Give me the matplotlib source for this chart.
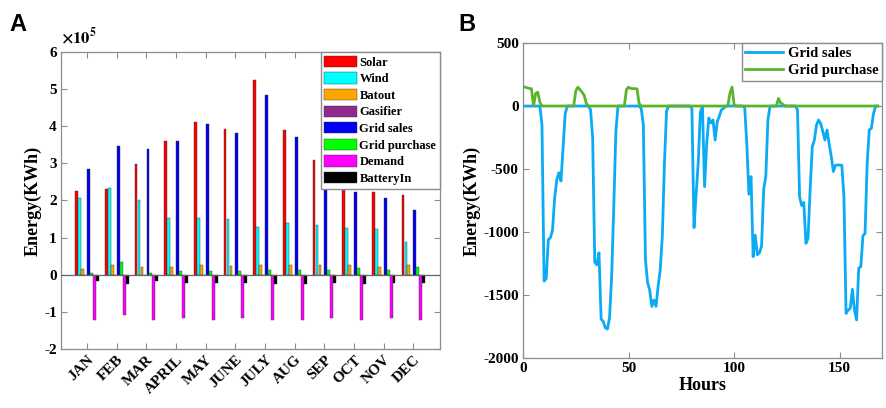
import numpy as np
import matplotlib
matplotlib.use("Agg")
import matplotlib.pyplot as plt

plt.rcParams['font.family'] = ['Liberation Serif', 'DejaVu Serif']
plt.rcParams['font.weight'] = 'bold'
plt.rcParams['axes.labelweight'] = 'bold'
plt.rcParams['axes.unicode_minus'] = False
plt.rcParams['mathtext.fontset'] = 'stix'

# ---- panel A data (units of 1e5 kWh) ----
months = ['JAN', 'FEB', 'MAR', 'APRIL', 'MAY', 'JUNE', 'JULY', 'AUG', 'SEP', 'OCT', 'NOV', 'DEC']
solar = [2.26, 2.30, 2.97, 3.61, 4.12, 3.92, 5.25, 3.89, 3.08, 2.31, 2.22, 2.16]
wind = [2.08, 2.34, 2.01, 1.53, 1.54, 1.49, 1.29, 1.39, 1.34, 1.27, 1.22, 0.87]
batout = [0.15, 0.25, 0.20, 0.21, 0.25, 0.24, 0.26, 0.26, 0.26, 0.26, 0.22, 0.26]
gasifier = [0, 0, 0, 0, 0, 0, 0, 0, 0, 0, 0, 0]
grid_sales = [2.85, 3.48, 3.40, 3.61, 4.05, 3.83, 4.83, 3.70, 2.85, 2.24, 2.07, 1.74]
grid_purchase = [0.06, 0.34, 0.04, 0.10, 0.10, 0.10, 0.13, 0.13, 0.13, 0.18, 0.13, 0.20]
demand = [-1.21, -1.09, -1.21, -1.17, -1.21, -1.17, -1.21, -1.21, -1.17, -1.21, -1.17, -1.21]
battery_in = [-0.16, -0.24, -0.18, -0.21, -0.21, -0.23, -0.26, -0.25, -0.22, -0.24, -0.21, -0.23]

series_names = ['Solar', 'Wind', 'Batout', 'Gasifier', 'Grid sales', 'Grid purchase', 'Demand', 'BatteryIn']
series_colors = ['#FF0000', '#00FFFF', '#FFA500', '#8E2A8E', '#0000F0', '#00FF00', '#FF00FF', '#000000']

# ---- panel B data (hourly, kWh) ----
hours = np.arange(1, 169)
sales_hourly = [
    0, 0, 0, 0, 0, 0, 0, 0, -150, -1390, -1370, -1060,
    -1045, -985, -730, -585, -530, -595, -330, -60, 0, 0, 0, 0,
    0, 0, 0, 0, 0, 0, 0, -30, -250, -1240, -1260, -1165,
    -1690, -1710, -1760, -1770, -1680, -1350, -800, -200, 0, 0, 0, 0,
    0, 0, 0, 0, 0, 0, 0, -20, -150, -1220, -1400, -1460,
    -1590, -1540, -1590, -1430, -1300, -1030, -450, -40, 0, 0, 0, 0,
    0, 0, 0, 0, 0, 0, 0, -20, -965, -700, -450, -50,
    0, -640, -300, -95, -135, -110, -270, -124, -80, -30, -18, 0,
    0, 0, 0, 0, 0, 0, 0, 0, -10, -300, -700, -560,
    -1196, -1025, -1180, -1165, -1110, -660, -560, -110, 0, 0, 0, 0,
    0, 0, 0, 0, 0, 0, 0, 0, 0, -30, -720, -790,
    -765, -1090, -1050, -660, -323, -270, -150, -111, -140, -200, -270, -190,
    -300, -400, -520, -470, -468, -468, -470, -720, -1646, -1620, -1606, -1455,
    -1620, -1698, -1288, -1275, -1030, -1011, -455, -190, -177, -60, 0, 0,
]
purchase_hourly = [
    150, 145, 140, 138, 0, 100, 110, 30, 0, 0, 0, 0,
    0, 0, 0, 0, 0, 0, 0, 0, 0, 0, 0, 0,
    120, 150, 130, 110, 85, 20, 0, 0, 0, 0, 0, 0,
    0, 0, 0, 0, 0, 0, 0, 0, 0, 0, 0, 0,
    130, 150, 140, 138, 138, 136, 20, 0, 0, 0, 0, 0,
    0, 0, 0, 0, 0, 0, 0, 0, 0, 0, 0, 0,
    0, 0, 0, 0, 0, 0, 0, 0, 0, 0, 0, 0,
    0, 0, 0, 0, 0, 0, 0, 0, 0, 0, 0, 0,
    0, 100, 150, 10, 0, 0, 0, 0, 0, 0, 0, 0,
    0, 0, 0, 0, 0, 0, 0, 0, 0, 0, 0, 0,
    60, 25, 15, 0, 0, 0, 0, 0, 0, 0, 0, 0,
    0, 0, 0, 0, 0, 0, 0, 0, 0, 0, 0, 0,
    0, 0, 0, 0, 0, 0, 0, 0, 0, 0, 0, 0,
    0, 0, 0, 0, 0, 0, 0, 0, 0, 0, 0, 0,
]

frame_gray = '#8c8c8c'

fig = plt.figure(figsize=(8.87, 4.08), dpi=100)
axA = fig.add_axes([0.0688, 0.1446, 0.4273, 0.728])
axB = fig.add_axes([0.5896, 0.1225, 0.4047, 0.772])

# ---- panel A ----
data = [solar, wind, batout, gasifier, grid_sales, grid_purchase, demand, battery_in]
x = np.arange(1, len(months) + 1)
step = 0.1
for i, (vals, name, col) in enumerate(zip(data, series_names, series_colors)):
    axA.bar(x + (i - 3.5) * step, vals, width=0.095, color=col, edgecolor='#333333',
            linewidth=0.3, label=name, zorder=3)
axA.axhline(0, color='#666666', linewidth=0.9, zorder=4)
axA.set_xlim(0.12, 12.9)
axA.set_ylim(-2, 6)
axA.set_yticks(range(-2, 7))
axA.set_xticks(x)
axA.set_xticklabels(months, rotation=45, ha='right', rotation_mode='anchor')
axA.set_ylabel('Energy(KWh)', fontsize=13, labelpad=2)
axA.text(0.0, 1.015, r'$\times10^5$', transform=axA.transAxes, fontsize=12,
         fontweight='normal', ha='left', va='bottom')
legA = axA.legend(loc='upper right', fontsize=9, frameon=True, fancybox=False,
                  borderaxespad=0, handlelength=2.6, handleheight=1.0,
                  labelspacing=0.3, borderpad=0.3, handletextpad=0.2)
legA.get_frame().set_edgecolor(frame_gray)
legA.get_frame().set_alpha(1)
legA.set_zorder(10)

# ---- panel B ----
axB.plot(hours, sales_hourly, color='#0AAAF5', linewidth=2, label='Grid sales')
axB.plot(hours, purchase_hourly, color='#5DB32A', linewidth=2, label='Grid purchase')
axB.set_xlim(0, 170)
axB.set_ylim(-2000, 500)
axB.set_xticks([0, 50, 100, 150])
axB.set_yticks(range(-2000, 501, 500))
axB.set_xlabel('Hours', fontsize=13, labelpad=1)
axB.set_ylabel('Energy(KWh)', fontsize=13, labelpad=2)
legB = axB.legend(loc='upper right', fontsize=10.5, frameon=True, fancybox=False,
                  borderaxespad=0, handlelength=2.6, labelspacing=0.3,
                  borderpad=0.25, handletextpad=0.3)
legB.get_frame().set_edgecolor(frame_gray)
legB.get_frame().set_alpha(1)

for ax in (axA, axB):
    for s in ax.spines.values():
        s.set_color(frame_gray)
        s.set_linewidth(0.9)
    ax.tick_params(direction='in', length=4, width=0.8, color=frame_gray,
                   top=True, right=True, labelsize=11, pad=3)
    for lbl in ax.get_xticklabels() + ax.get_yticklabels():
        lbl.set_fontweight('bold')

axA.tick_params(axis='x', labelsize=11)

fig.text(0.011, 0.925, 'A', fontsize=17, fontweight='bold', family='Liberation Sans')
fig.text(0.517, 0.925, 'B', fontsize=17, fontweight='bold', family='Liberation Sans')

fig.savefig('out.png', dpi=100)
